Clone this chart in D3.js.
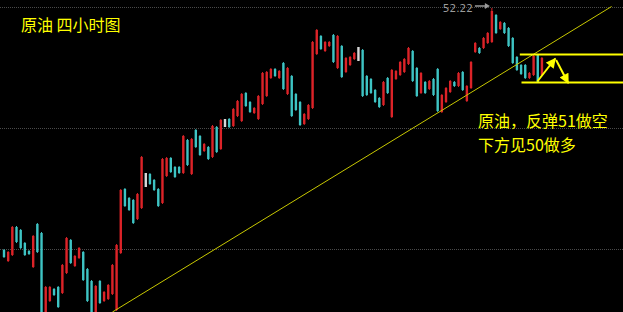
<!DOCTYPE html>
<html><head><meta charset="utf-8">
<script src="https://cdn.jsdelivr.net/npm/d3@7"></script>
<style>html,body{margin:0;padding:0;background:#000;overflow:hidden}svg{display:block}</style>
</head><body><svg id="c" width="623" height="312"></svg>
<script>
// ---- data (price, per 4-hour bar) ----
const open = [47.38,47.16,47.28,47.84,47.78,47.52,47.36,47.04,47.90,47.72,
46.10,46.36,46.60,46.64,46.52,46.92,47.58,47.06,47.22,47.34,
47.00,46.76,46.10,46.76,46.36,46.40,46.50,46.18,47.32,48.60,
48.42,48.38,48.00,48.22,48.78,48.90,48.78,48.60,48.32,48.86,
49.22,49.04,49.04,48.92,49.58,48.90,49.78,49.66,49.36,49.44,
49.24,49.84,49.40,49.92,50.00,49.86,50.06,49.96,50.52,50.34,
50.12,50.00,50.30,50.46,50.82,51.00,50.82,51.12,50.50,50.86,
50.50,50.34,49.90,50.00,50.22,51.30,51.66,51.36,51.46,51.68,
51.02,51.46,50.94,51.08,51.20,51.30,51.38,50.86,50.80,50.58,
50.42,50.28,50.82,50.04,50.80,50.88,50.94,51.10,51.36,51.02,
50.52,50.74,50.60,50.80,51.00,50.14,50.34,50.54,50.74,50.66,
50.94,50.36,50.62,51.34,51.42,51.42,51.52,51.54,52.08,51.80,
51.92,51.82,51.62,51.24,51.08,51.08,50.82,50.88,51.28,50.88];
const high = [47.40,47.36,47.86,47.86,47.80,47.54,47.38,47.68,47.92,47.74,
46.66,46.66,46.62,46.66,47.10,47.64,47.60,47.28,47.44,47.36,
47.02,46.78,46.68,46.78,46.56,46.70,47.10,47.50,48.60,48.62,
48.44,48.40,48.52,49.26,48.92,48.92,48.80,48.62,49.22,49.24,
49.24,49.06,49.06,49.68,49.60,49.62,49.80,49.68,49.52,49.46,
49.88,49.86,50.00,50.00,50.02,50.22,50.38,50.52,50.54,50.36,
50.24,50.48,50.94,50.96,51.02,51.02,50.98,51.14,51.04,50.88,
50.52,50.36,50.12,50.30,51.56,51.80,51.68,51.56,51.56,51.70,
51.68,51.48,51.24,51.26,51.34,51.44,51.40,50.88,50.82,50.60,
50.44,50.76,50.84,51.00,50.98,51.16,51.22,51.44,51.38,51.04,
50.94,50.76,50.78,50.82,51.02,50.50,50.64,50.78,50.76,50.94,
50.96,50.68,51.16,51.54,51.44,51.64,51.74,52.22,52.10,51.96,
51.94,51.84,51.64,51.26,51.10,51.10,50.94,51.28,51.30,51.24];
const low = [47.22,47.14,47.26,47.52,47.40,47.26,47.28,47.02,47.32,46.06,
46.06,46.34,46.46,46.22,46.50,46.90,47.10,47.04,47.20,46.76,
46.34,46.08,46.06,46.30,46.34,46.38,46.48,46.16,47.30,48.24,
48.16,47.90,47.98,48.20,48.64,48.68,48.56,48.24,48.30,48.84,
48.92,48.82,48.90,48.90,49.06,48.88,49.42,49.26,49.34,49.18,
49.22,49.32,49.38,49.84,49.82,49.84,50.04,49.94,50.24,50.12,
50.10,49.98,50.28,50.44,50.80,50.84,50.80,50.58,50.48,50.04,
50.16,49.86,49.88,49.98,50.20,51.28,51.38,51.34,51.44,51.12,
51.00,50.82,50.92,51.06,51.18,51.16,50.44,50.46,50.50,50.32,
50.22,50.26,50.50,50.02,50.78,50.86,50.92,51.08,50.74,50.44,
50.50,50.50,50.58,50.46,50.14,50.12,50.32,50.52,50.64,50.64,
50.56,50.34,50.60,51.32,51.30,51.40,51.50,51.52,51.70,51.78,
51.70,51.44,51.10,50.96,50.88,50.80,50.80,50.86,50.72,50.86];
const close = [47.24,47.34,47.84,47.54,47.42,47.28,47.30,47.66,47.34,46.10,
46.64,46.64,46.48,46.24,47.08,47.62,47.12,47.26,47.42,46.78,
46.36,46.10,46.66,46.32,46.54,46.68,47.08,47.48,48.58,48.26,
48.18,47.92,48.50,49.24,48.78,48.70,48.58,48.26,49.20,49.22,
48.94,48.84,48.92,49.66,49.08,49.60,49.44,49.28,49.50,49.20,
49.86,49.34,49.98,49.92,49.84,50.20,50.36,50.50,50.26,50.14,
50.22,50.46,50.92,50.94,51.00,50.86,50.96,50.60,51.02,50.06,
50.18,49.88,50.10,50.28,51.54,51.78,51.40,51.54,51.54,51.14,
51.66,50.84,51.22,51.24,51.32,51.30,50.46,50.48,50.52,50.34,
50.24,50.74,50.52,50.98,50.96,51.14,51.20,51.42,50.76,50.46,
50.92,50.52,50.76,50.48,50.16,50.48,50.62,50.76,50.66,50.92,
50.58,50.66,51.14,51.52,51.32,51.62,51.72,52.16,51.72,51.94,
51.72,51.46,51.12,50.98,50.90,50.82,50.92,51.26,50.74,51.22];

const gridLevels = [52.24, 49.82, 47.40];
const trendLine = [[26, 46.14], [145.7, 52.25]];
const levelUpper = {price: 51.29, from: 123.7, to: 149.5};
const levelLower = {price: 50.73, from: 124.1, to: 149.5};
const arrowUp = [[127.9, 50.75], [132.2, 51.21]];
const arrowDown = [[132.4, 51.18], [135.3, 50.72]];
const titleText = "原油 四小时图";
const noteLines = ["原油，反弹51做空", "下方见50做多"];
const maxLabel = "52.22";

// ---- chart ----
const W = 623, H = 312;
const svg = d3.select("#c");
svg.append("rect").attr("width", W).attr("height", H).attr("fill", "#000");

const n = open.length;
const x = d3.scaleLinear().domain([0, n - 1]).range([4, 4 + 4.17 * (n - 1)]);
const y = d3.scaleLinear().domain([46.14, 52.38]).range([H, 0]);

// grid
svg.append("g").selectAll("line").data(gridLevels).join("line")
  .attr("x1", 0).attr("x2", W)
  .attr("y1", d => Math.round(y(d)) + 0.5).attr("y2", d => Math.round(y(d)) + 0.5)
  .attr("stroke", "#4a4a4a").attr("stroke-width", 1).attr("stroke-dasharray", "1,1");

const UP = "#dc2328", DN = "#3ec4c4", NEU = "#d8d8d8";
const bars = d3.range(n).map(i => ({i, o: open[i], h: high[i], l: low[i], c: close[i]}));
const col = d => d.c > d.o ? UP : d.c < d.o ? DN : NEU;
const bw = 2.4;
const g = svg.append("g");
g.selectAll("line.w").data(bars).join("line").attr("class", "w")
  .attr("x1", d => x(d.i)).attr("x2", d => x(d.i))
  .attr("y1", d => y(d.h)).attr("y2", d => y(d.l))
  .attr("stroke", col).attr("stroke-width", 1);
g.selectAll("rect").data(bars).join("rect")
  .attr("x", d => x(d.i) - bw / 2).attr("width", bw)
  .attr("y", d => d.c === d.o ? y(d.h) : y(Math.max(d.o, d.c)))
  .attr("height", d => d.c === d.o ? y(d.l) - y(d.h) : Math.max(1, y(Math.min(d.o, d.c)) - y(Math.max(d.o, d.c))))
  .attr("fill", col);

// trend line
svg.append("line")
  .attr("x1", x(trendLine[0][0])).attr("y1", y(trendLine[0][1]))
  .attr("x2", x(trendLine[1][0])).attr("y2", y(trendLine[1][1]))
  .attr("stroke", "#c8c800").attr("stroke-width", 1);

// horizontal levels
[levelUpper, levelLower].forEach(L => {
  svg.append("line").attr("x1", x(L.from)).attr("x2", Math.min(W, x(L.to)))
    .attr("y1", y(L.price)).attr("y2", y(L.price))
    .attr("stroke", "#ffff00").attr("stroke-width", 2);
});

// arrows
const defs = svg.append("defs");
defs.append("marker").attr("id", "ah").attr("viewBox", "0 -5 10 10")
  .attr("refX", 9).attr("refY", 0).attr("markerUnits", "userSpaceOnUse")
  .attr("markerWidth", 11).attr("markerHeight", 10).attr("orient", "auto")
  .append("path").attr("d", "M0,-5L10,0L0,5Z").attr("fill", "#ffff00");
[arrowUp, arrowDown].forEach(a => {
  svg.append("line")
    .attr("x1", x(a[0][0])).attr("y1", y(a[0][1]))
    .attr("x2", x(a[1][0])).attr("y2", y(a[1][1]))
    .attr("stroke", "#ffff00").attr("stroke-width", 2)
    .attr("marker-end", "url(#ah)");
});

// max label
const imax = d3.maxIndex(high);
const ym = y(high[imax]) - 2;
svg.append("line").attr("x1", x(imax) - 17).attr("x2", x(imax) - 4)
  .attr("y1", ym).attr("y2", ym).attr("stroke", "#9a9a9a").attr("stroke-width", 1.5);
svg.append("path")
  .attr("d", `M${x(imax) - 2},${ym} L${x(imax) - 7},${ym - 3} L${x(imax) - 7},${ym + 3}Z`)
  .attr("fill", "#9a9a9a");
svg.append("text").attr("x", x(imax) - 19).attr("y", ym + 6)
  .attr("text-anchor", "end").attr("fill", "#9a9a9a")
  .attr("font-family", "DejaVu Sans, sans-serif").attr("font-size", 10.5)
  .text(maxLabel);

// texts
const fontCJK = "'Noto Sans CJK SC', 'Noto Sans', sans-serif";
svg.append("text").attr("x", 21).attr("y", 31)
  .attr("fill", "#ffff00").attr("font-family", fontCJK).attr("font-size", 16)
  .text(titleText);
svg.selectAll("text.note").data(noteLines).join("text").attr("class", "note")
  .attr("x", 478).attr("y", (d, i) => 127 + i * 23.5)
  .attr("fill", "#ffff00").attr("font-family", fontCJK).attr("font-size", 16)
  .text(d => d);
</script>
</body></html>
